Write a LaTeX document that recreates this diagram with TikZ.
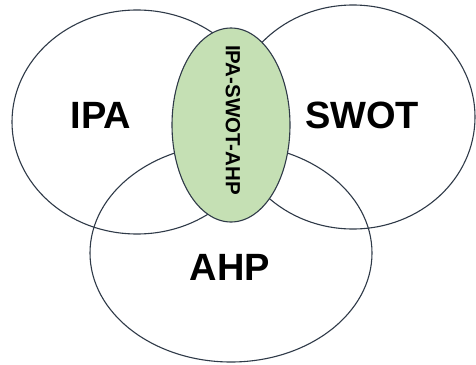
\documentclass[tikz,border=0pt]{standalone}
\usepackage{fontspec}
\setmainfont{Liberation Sans}
\definecolor{edge}{HTML}{2F3A48}
\definecolor{leaf}{HTML}{C5E0B4}
\begin{document}
\begin{tikzpicture}[x=1pt,y=-1pt,
  ring/.style={draw=edge,line width=1.1pt},
  lbl/.style={font=\bfseries\fontsize{38}{40}\selectfont,text=black}]
\useasboundingbox (0,0) rectangle (476,364);
\fill[white] (0,0) rectangle (476,364);
\draw[ring] (137,122) ellipse [x radius=125, y radius=112] coordinate (ipa);
\draw[ring] (353,117) ellipse [x radius=122, y radius=112];
\draw[ring] (231,253) ellipse [x radius=141, y radius=109];
\draw[ring,fill=leaf] (231,125) ellipse [x radius=59, y radius=97];
\node[lbl] (ipaL) at (101,115) {IPA};
\node[lbl] (swotL) at (362,115) {SWOT};
\node[lbl] (ahpL) at (230,267) {AHP};
\node[font=\bfseries\fontsize{20.5}{22}\selectfont,rotate=-90] (core) at (233,120) {IPA-SWOT-AHP};
\end{tikzpicture}
\end{document}
